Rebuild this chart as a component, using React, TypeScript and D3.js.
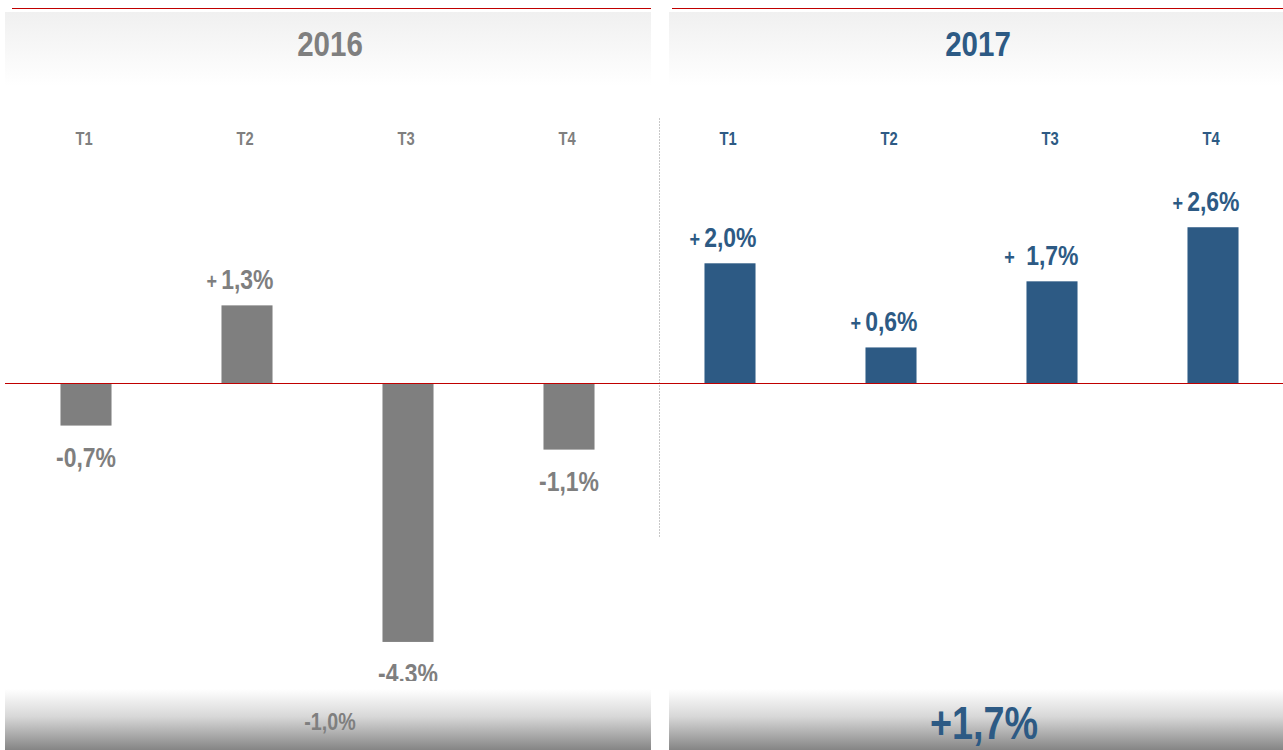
import React from "react";
import * as d3 from "d3";

// data
const years = ["2016", "2017"];
const quarters = ["T1", "T2", "T3", "T4"];
const values2016 = [-0.7, 1.3, -4.3, -1.1];
const values2017 = [2.0, 0.6, 1.7, 2.6];
const labels2016 = ["-0,7%", "1,3%", "-4.3%", "-1,1%"];
const labels2017 = ["2,0%", "0,6%", "1,7%", "2,6%"];
const totals = ["-1,0%", "+1,7%"];

const W = 1283;
const H = 750;
const GRAY = "#7f7f7f";
const BLUE = "#2d5a84";
const FONT = "'Liberation Sans', Arial, sans-serif";

// Arial squeezed horizontally, close to Arial Narrow
function Narrow({ x, y, anchor = "middle", size, color, children }: any) {
  return (
    <text
      transform={`translate(${x},${y}) scale(0.82,1)`}
      textAnchor={anchor}
      fontSize={size}
      fontWeight="bold"
      fill={color}
    >
      {children}
    </text>
  );
}

export default function App() {
  const allKeys = years.flatMap((y) => quarters.map((q) => `${y}-${q}`));
  const x = d3.scaleBand().domain(allKeys).range([5.5, 1293.5]).paddingInner(0.683).paddingOuter(0.3415);
  const y = d3.scaleLinear().domain([-5, 5]).range([684, 83]);

  const series = [
    { year: years[0], values: values2016, labels: labels2016, color: GRAY },
    { year: years[1], values: values2017, labels: labels2017, color: BLUE },
  ];

  const panels = [
    { x0: 5, x1: 651, line0: 12, line1: 651 },
    { x0: 669, x1: W, line0: 672, line1: W },
  ];

  const bw = x.bandwidth();

  return (
    <svg width={W} height={H} style={{ position: "absolute", left: 0, top: 0 }} fontFamily={FONT}>
      <defs>
        <linearGradient id="head" x1="0" y1="0" x2="0" y2="1">
          <stop offset="0" stopColor="#f0f0f0" />
          <stop offset="1" stopColor="#ffffff" />
        </linearGradient>
        <linearGradient id="foot" x1="0" y1="0" x2="0" y2="1">
          <stop offset="0" stopColor="#ffffff" />
          <stop offset="0.45" stopColor="#d8d8d8" />
          <stop offset="1" stopColor="#858585" />
        </linearGradient>
        <clipPath id="plot">
          <rect x={0} y={0} width={W} height={681} />
        </clipPath>
      </defs>
      <rect width={W} height={H} fill="#fff" />

      {panels.map((p, i) => (
        <g key={"head" + i}>
          <rect x={p.x0} y={12} width={p.x1 - p.x0} height={74} fill="url(#head)" />
          <line x1={p.line0} x2={p.line1} y1={8.5} y2={8.5} stroke="#c00000" strokeWidth={1.2} />
          <Narrow x={(p.x0 + p.x1) / 2 + 2} y={56} size={36} color={series[i].color}>
            {years[i]}
          </Narrow>
        </g>
      ))}

      {/* dashed separator */}
      <line x1={659.5} x2={659.5} y1={118} y2={538} stroke="#c8c8c8" strokeWidth={1} strokeDasharray="2,1" />

      <g clipPath="url(#plot)">
        {series.map((s) =>
          quarters.map((q, i) => {
            const key = `${s.year}-${q}`;
            const bx = x(key) as number;
            const v = s.values[i];
            const top = y(Math.max(0, v));
            const bottom = y(Math.min(0, v));
            return (
              <g key={key}>
                <Narrow x={bx + bw / 2 - 2} y={145} size={18} color={s.color}>
                  {q}
                </Narrow>
                <rect x={bx} y={top} width={bw} height={bottom - top} fill={s.color} />
                {v >= 0 ? (
                  <Narrow x={bx + bw + 1} y={top - 16} anchor="end" size={28} color={s.color}>
                    <tspan fontSize={22}>+</tspan>
                    <tspan dx={s.year === "2017" && q === "T3" ? 14 : 5}>{s.labels[i]}</tspan>
                  </Narrow>
                ) : (
                  <Narrow x={bx + bw / 2} y={bottom + 41} size={28} color={s.color}>
                    {s.labels[i]}
                  </Narrow>
                )}
              </g>
            );
          })
        )}
      </g>

      {/* zero line */}
      <line x1={5} x2={W} y1={383.5} y2={383.5} stroke="#c00000" strokeWidth={1.2} />

      {panels.map((p, i) => (
        <g key={"foot" + i}>
          <rect x={p.x0} y={689} width={p.x1 - p.x0} height={H - 689} fill="url(#foot)" />
          <Narrow
            x={(p.x0 + p.x1) / 2 + (i === 0 ? 2 : 8)}
            y={i === 0 ? 730 : 739}
            size={i === 0 ? 24 : 46}
            color={series[i].color}
          >
            {totals[i]}
          </Narrow>
        </g>
      ))}
    </svg>
  );
}
